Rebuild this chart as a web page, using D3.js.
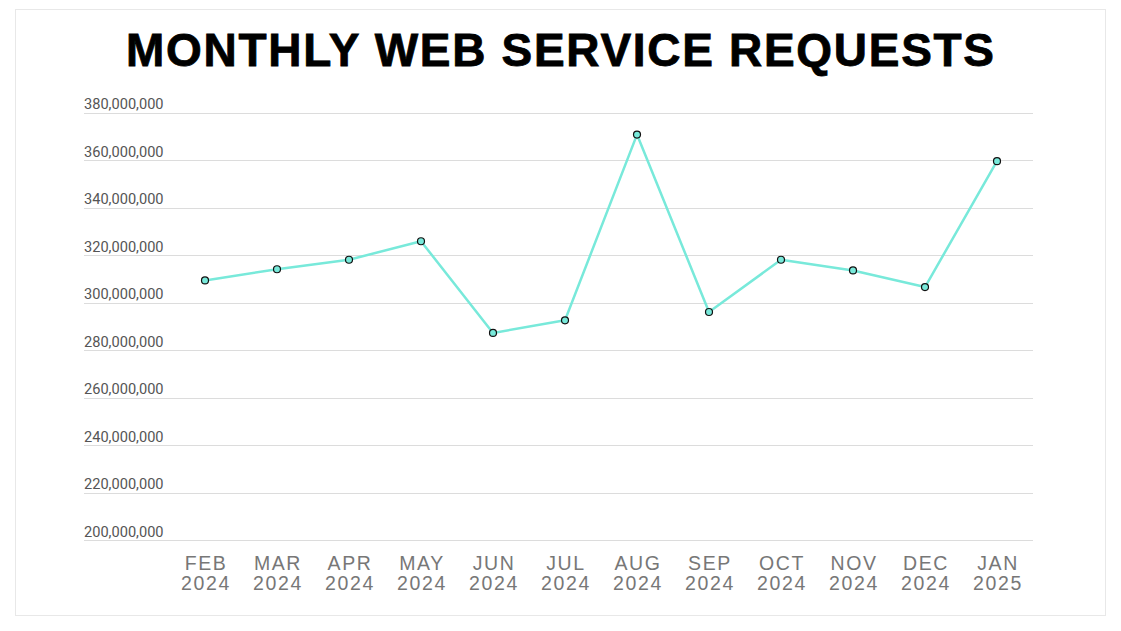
<!DOCTYPE html>
<html><head><meta charset="utf-8">
<script src="https://cdn.jsdelivr.net/npm/d3@7"></script>
<style>
html,body{margin:0;padding:0;background:#fff;}
svg{display:block;}
</style></head>
<body>
<svg id="chart" width="1121" height="631"></svg>
<script>
const months = ["FEB","MAR","APR","MAY","JUN","JUL","AUG","SEP","OCT","NOV","DEC","JAN"];
const years = ["2024","2024","2024","2024","2024","2024","2024","2024","2024","2024","2024","2025"];
const requests = [309300000,314000000,318000000,325800000,287200000,292500000,370700000,296000000,318000000,313500000,306500000,359500000];
const yTicks = [200000000,220000000,240000000,260000000,280000000,300000000,320000000,340000000,360000000,380000000];
const title = "MONTHLY WEB SERVICE REQUESTS";

const svg = d3.select("#chart");
svg.append("rect").attr("x",15.5).attr("y",9.5).attr("width",1090).attr("height",606)
  .attr("fill","#fff").attr("stroke","#e8e8e8").attr("stroke-width",1);

svg.append("text").attr("x",560).attr("y",66).attr("text-anchor","middle")
  .attr("font-family","Liberation Sans, Arial, sans-serif").attr("font-weight","bold")
  .attr("font-size",46).attr("fill","#000").attr("stroke","#000").attr("stroke-width",0.8)
  .attr("textLength",868).attr("lengthAdjust","spacing")
  .text(title);

const idx = months.map((m,i)=>i);
const x = d3.scaleBand().domain(idx).range([169,1033]);
const y = d3.scaleLinear().domain([200000000,380000000]).range([540,112.5]);

const grid = svg.append("g");
grid.selectAll("line").data(yTicks).join("line")
  .attr("x1",84).attr("x2",1033)
  .attr("y1",d=>Math.round(y(d))+0.5).attr("y2",d=>Math.round(y(d))+0.5)
  .attr("stroke","#dcdcdc").attr("stroke-width",1);
grid.selectAll("text").data(yTicks).join("text")
  .attr("x",84).attr("y",d=>y(d)-3.5)
  .attr("font-family","Roboto, sans-serif").attr("font-size",14.6).attr("fill","#555")
  .text(d=>d3.format(",")(d));

const xl = svg.append("g");
const lab = xl.selectAll("text").data(idx).join("text")
  .attr("x",d=>x(d)+x.bandwidth()/2+1).attr("text-anchor","middle")
  .attr("font-family","Liberation Sans, Arial, sans-serif").attr("font-size",19.5)
  .attr("letter-spacing","1.6px").attr("fill","#777");
lab.append("tspan").attr("x",d=>x(d)+x.bandwidth()/2+1).attr("y",570).text(d=>months[d]);
lab.append("tspan").attr("x",d=>x(d)+x.bandwidth()/2+1).attr("y",590).text(d=>years[d]);

const line = d3.line().x((d,i)=>x(i)+x.bandwidth()/2).y(d=>y(d));
svg.append("path").datum(requests).attr("d",line)
  .attr("fill","none").attr("stroke","#78e9da").attr("stroke-width",2.5).attr("stroke-linejoin","round");
svg.append("g").selectAll("circle").data(requests).join("circle")
  .attr("cx",(d,i)=>x(i)+x.bandwidth()/2).attr("cy",d=>y(d)).attr("r",3.5)
  .attr("fill","#78e9da").attr("stroke","#111").attr("stroke-width",1.2);
</script>
</body></html>
